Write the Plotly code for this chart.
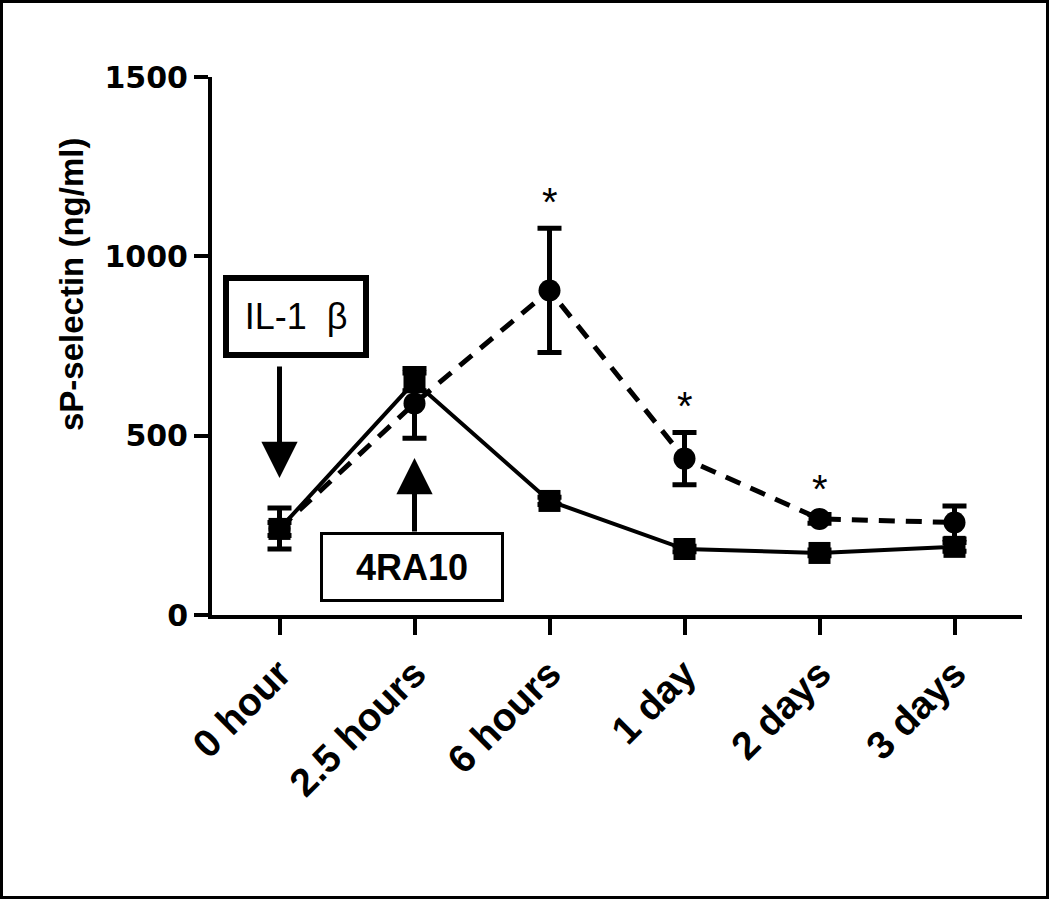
import plotly.graph_objects as go

# time points and sP-selectin (ng/ml) means / SEM
timepoints = ["0 hour", "2.5 hours", "6 hours", "1 day", "2 days", "3 days"]
il1b_mean = [241, 590, 905, 436, 268, 258]
il1b_err = [57, 97, 173, 73, 12, 46]
il1b_4ra10_mean = [240, 650, 318, 184, 173, 190]
il1b_4ra10_err = [18, 25, 10, 8, 8, 12]
signif = [False, False, True, True, True, False]
yticks = [0, 500, 1000, 1500]

W, H = 1050, 900
L, R, T, B = 212, 28, 77, 285
ARIAL = "Arial, Liberation Sans"

fig = go.Figure()

fig.add_trace(go.Scatter(
    x=timepoints, y=il1b_mean, mode="lines+markers", name="IL-1b",
    line=dict(color="black", width=5, dash="16px,11px"),
    marker=dict(symbol="circle", size=22, color="black"),
    error_y=dict(type="data", array=il1b_err, color="black", thickness=5, width=12),
))
fig.add_trace(go.Scatter(
    x=timepoints, y=il1b_4ra10_mean, mode="lines+markers", name="IL-1b + 4RA10",
    line=dict(color="black", width=4),
    marker=dict(symbol="square", size=22, color="black"),
    error_y=dict(type="data", array=il1b_4ra10_err, color="black", thickness=5, width=12),
))

# significance stars
for i, s in enumerate(signif):
    if s:
        fig.add_annotation(x=i, y=il1b_mean[i] + il1b_err[i], text="*", showarrow=False,
                           yanchor="bottom", yshift=2,
                           font=dict(family=ARIAL, size=40, color="black"))

# IL-1 beta injection label + arrow
fig.add_annotation(x=0.12, y=832, text="IL-1\u00a0\u00a0\u03b2", showarrow=False,
                   width=134, height=71, borderwidth=6, bordercolor="black", borderpad=0,
                   bgcolor="white",
                   font=dict(family=ARIAL, size=36, color="black"))
fig.add_annotation(x=0, y=382, ax=0, ay=-113, text="", showarrow=True,
                   arrowhead=2, arrowsize=1.45, arrowwidth=5, arrowcolor="black", standoff=0)

# 4RA10 treatment label + arrow
fig.add_annotation(x=1, y=438, ax=0, ay=75, text="", showarrow=True,
                   arrowhead=2, arrowsize=1.45, arrowwidth=5, arrowcolor="black", standoff=0)
fig.add_annotation(x=0.98, y=135, text="<b>4RA10</b>", showarrow=False,
                   width=178, height=64, borderwidth=3, bordercolor="black", borderpad=0,
                   bgcolor="white",
                   font=dict(family=ARIAL, size=36, color="black"))

pw = W - L - R
ph = H - T - B

# y axis title (sits a bit above the axis centre in the original)
fig.add_annotation(xref="paper", yref="paper", x=(71 - L) / pw, y=1 - (285 - T) / ph,
                   text="<b>sP-selectin (ng/ml)</b>", textangle=-90, showarrow=False,
                   xanchor="center", yanchor="middle",
                   font=dict(family=ARIAL, size=33, color="black"))

# outer frame around the whole picture
fig.add_shape(type="rect", xref="paper", yref="paper",
              x0=(-L + 1.5) / pw, x1=(W - L - 2.5) / pw,
              y0=-(B - 2.5) / ph, y1=1 + (T - 1.5) / ph,
              line=dict(color="black", width=3))

fig.update_layout(
    width=W, height=H,
    margin=dict(l=L, r=R, t=T, b=B),
    plot_bgcolor="white", paper_bgcolor="white",
    showlegend=False,
    font=dict(family=ARIAL, color="black"),
)
fig.update_xaxes(
    type="category", range=[-0.5, 5.5],
    showline=True, linecolor="black", linewidth=4, mirror=False,
    ticks="outside", ticklen=16, tickwidth=4, tickcolor="black",
    tickangle=-45, showgrid=False, zeroline=False,
    tickfont=dict(family=ARIAL, size=39, color="black", weight="bold"),
)
fig.update_yaxes(
    range=[0, 1500], tickvals=yticks,
    showline=True, linecolor="black", linewidth=4,
    ticks="outside", ticklen=14, tickwidth=4, tickcolor="black",
    showgrid=False, zeroline=False,
    tickfont=dict(family="DejaVu Sans", size=30, color="black", weight="bold"),
)

fig.write_html("out.html", config={"displayModeBar": False},
               post_script="document.body.style.margin='0px';")
